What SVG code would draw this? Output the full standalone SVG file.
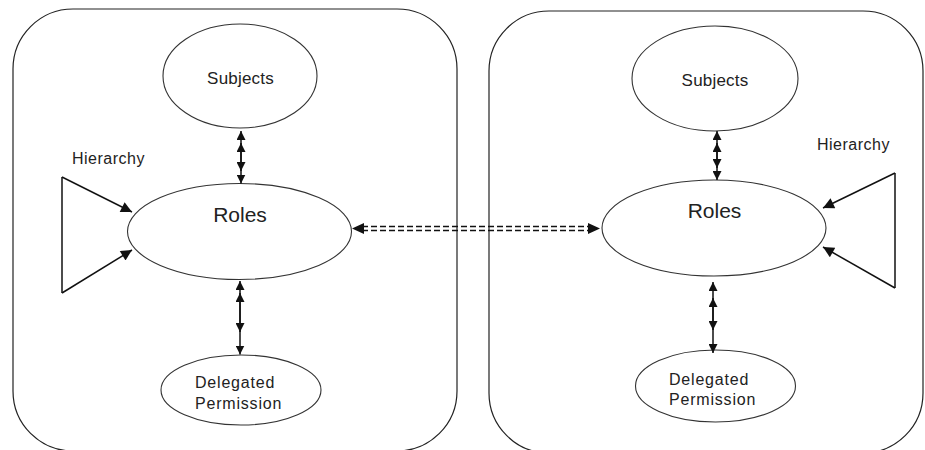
<svg xmlns="http://www.w3.org/2000/svg" width="925" height="450" viewBox="0 0 925 450">
  <style>
    .box { fill: none; stroke: #222; stroke-width: 1.2; }
    .node { fill: #fff; stroke: #333; stroke-width: 1.1; }
    .lbl { font-family: "Liberation Sans", Arial, sans-serif; fill: #222; }
    .conn { fill: none; stroke: #111; stroke-width: 1.5; }
    .dash { fill: none; stroke: #111; stroke-width: 1.3; stroke-dasharray: 6 3; }
    .head { fill: #111; stroke: none; }
  </style>
  <defs>
    <marker id="ah" viewBox="0 0 10 10" refX="10" refY="5" markerWidth="9" markerHeight="9" markerUnits="userSpaceOnUse" orient="auto-start-reverse">
      <path d="M0,0 L10,5 L0,10 z" fill="#111"/>
    </marker>
    <marker id="ah2" viewBox="0 0 10 10" refX="10" refY="5" markerWidth="13" markerHeight="11" markerUnits="userSpaceOnUse" orient="auto-start-reverse">
      <path d="M0,0 L10,5 L0,10 z" fill="#111"/>
    </marker>
  </defs>
  <rect width="925" height="450" fill="#fff"/>

  <g id="domain-left">
    <rect class="box" x="13" y="9" width="444" height="442" rx="60" ry="60"/>
  </g>
  <g id="domain-right">
    <rect class="box" x="489" y="11" width="434" height="442" rx="60" ry="60"/>
  </g>

  <g id="subjects-left">
    <ellipse class="node" cx="240" cy="76" rx="77" ry="52"/>
    <text class="lbl" x="240.5" y="84" font-size="17" letter-spacing="0.2" text-anchor="middle">Subjects</text>
  </g>
  <g id="roles-left">
    <ellipse class="node" cx="239.5" cy="231.5" rx="112" ry="48"/>
    <text class="lbl" x="240" y="222" font-size="21" text-anchor="middle">Roles</text>
  </g>
  <g id="delegated-left">
    <ellipse class="node" cx="241" cy="390" rx="80" ry="35"/>
    <text class="lbl" x="195" y="388" font-size="16" letter-spacing="0.8">Delegated</text>
    <text class="lbl" x="195" y="409" font-size="16" letter-spacing="0.8">Permission</text>
  </g>
  <g id="hierarchy-left">
    <text class="lbl" x="72" y="164" font-size="16" letter-spacing="0.5">Hierarchy</text>
    <line class="conn" x1="62" y1="177" x2="62" y2="293"/>
  </g>

  <g id="subjects-right">
    <ellipse class="node" cx="715" cy="78.5" rx="83" ry="52.5"/>
    <text class="lbl" x="715" y="86" font-size="17" letter-spacing="0.2" text-anchor="middle">Subjects</text>
  </g>
  <g id="roles-right">
    <ellipse class="node" cx="714" cy="228" rx="112" ry="48"/>
    <text class="lbl" x="714.5" y="218" font-size="21" text-anchor="middle">Roles</text>
  </g>
  <g id="delegated-right">
    <ellipse class="node" cx="715.5" cy="386" rx="80" ry="36"/>
    <text class="lbl" x="669" y="385" font-size="16" letter-spacing="0.8">Delegated</text>
    <text class="lbl" x="669" y="405" font-size="16" letter-spacing="0.8">Permission</text>
  </g>
  <g id="hierarchy-right">
    <text class="lbl" x="817" y="150" font-size="16" letter-spacing="0.5">Hierarchy</text>
    <line class="conn" x1="895" y1="173" x2="895" y2="288"/>
  </g>

  <g id="connectors">
    <!-- left Subjects <-> Roles -->
    <line class="conn" x1="241" y1="131" x2="241" y2="183.5" marker-start="url(#ah)" marker-end="url(#ah)"/>
    <line class="conn" x1="241" y1="143" x2="241" y2="171" marker-start="url(#ah)" marker-end="url(#ah)"/>
    <!-- left Roles <-> Delegated -->
    <line class="conn" x1="240" y1="281" x2="240" y2="354.5" marker-start="url(#ah)" marker-end="url(#ah)"/>
    <line class="conn" x1="240" y1="293" x2="240" y2="332" marker-start="url(#ah)" marker-end="url(#ah)"/>
    <!-- left hierarchy -->
    <line class="conn" x1="62" y1="177" x2="132" y2="212" marker-end="url(#ah2)"/>
    <line class="conn" x1="62" y1="293" x2="132" y2="250" marker-end="url(#ah2)"/>

    <!-- right Subjects <-> Roles -->
    <line class="conn" x1="717" y1="131" x2="717" y2="180" marker-start="url(#ah)" marker-end="url(#ah)"/>
    <line class="conn" x1="717" y1="143" x2="717" y2="168" marker-start="url(#ah)" marker-end="url(#ah)"/>
    <!-- right Roles <-> Delegated -->
    <line class="conn" x1="713" y1="282" x2="713" y2="353" marker-start="url(#ah)" marker-end="url(#ah)"/>
    <line class="conn" x1="713" y1="298" x2="713" y2="330" marker-start="url(#ah)" marker-end="url(#ah)"/>
    <!-- right hierarchy -->
    <line class="conn" x1="895" y1="173" x2="823" y2="208" marker-end="url(#ah2)"/>
    <line class="conn" x1="895" y1="288" x2="823" y2="247" marker-end="url(#ah2)"/>

    <!-- dashed link between domains -->
    <line class="dash" x1="362" y1="226.5" x2="590" y2="226.5"/>
    <line class="dash" x1="362" y1="230.5" x2="590" y2="230.5"/>
    <polygon class="head" points="352,228.5 364,223 364,234"/>
    <polygon class="head" points="600,228.5 588,223 588,234"/>
  </g>
</svg>
